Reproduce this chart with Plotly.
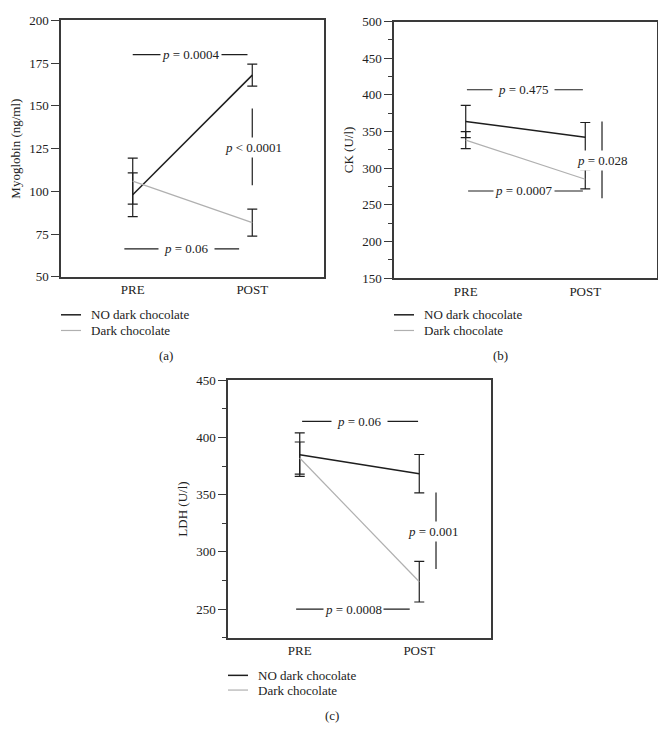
import plotly.graph_objects as go

# ---------------- data ----------------
groups = ["PRE", "POST"]
series_names = ["NO dark chocolate", "Dark chocolate"]

myo_no = [98.0, 168.0]
myo_no_err = [12.8, 6.4]
myo_dark = [106.0, 81.7]
myo_dark_err = [13.4, 7.9]

ck_no = [363.7, 342.4]
ck_no_err = [22.0, 20.0]
ck_dark = [338.4, 285.0]
ck_dark_err = [11.6, 13.0]

ldh_no = [384.9, 368.3]
ldh_no_err = [19.0, 16.8]
ldh_dark = [382.0, 274.0]
ldh_dark_err = [14.0, 17.7]

# p-values: (label, y level)
p_myo = [("= 0.0004", 180.0), ("= 0.06", 66.4), ("< 0.0001", 125.6)]
p_ck = [("= 0.475", 407.0), ("= 0.0007", 269.0), ("= 0.028", 310.0)]
p_ldh = [("= 0.06", 414.0), ("= 0.0008", 250.0), ("= 0.001", 317.7)]
# vertical bracket y-extents
v_myo = [103.6, 148.5]
v_ck = [259.0, 363.7]
v_ldh = [285.0, 352.0]

# page body has an 8px margin in the browser: compensate
OFF = 8
W, H = 666 - OFF, 749 - OFF
FONT = "Liberation Serif"
BLACK = "#1e1e1e"
GRAY = "#b0b0b0"
AX = "#3a3a3a"
TXT = "#222"


def px(x):
    return (x - OFF) / W


def py(y):
    return 1 - (y - OFF) / H


fig = go.Figure()

panels = [
    dict(ax="", vals=(myo_no, myo_no_err, myo_dark, myo_dark_err),
         xd=(61, 324), yd=(13.5, 275.3), rng=[50, 200], dtick=25, minor=False,
         title="Myoglobin (ng/ml)", p=p_myo, v=v_myo, vx=1.0, vtx=1.01,
         hx=[(0.0, 0.96, 0.49, 1), (-0.07, 0.89, 0.45, 5)], cap="(a)", capx=166,
         legx=61, legy=(314, 330), capy=356),
    dict(ax="2", vals=(ck_no, ck_no_err, ck_dark, ck_dark_err),
         xd=(394, 657), yd=(14.7, 276.7), rng=[150, 500], dtick=50, minor=True,
         title="CK (U/l)", p=p_ck, v=v_ck, vx=1.14, vtx=1.14,
         hx=[(0.01, 0.98, 0.48, 5), (0.02, 0.98, 0.49, 1)], cap="(b)", capx=500,
         legx=394, legy=(314, 330), capy=356),
    dict(ax="3", vals=(ldh_no, ldh_no_err, ldh_dark, ldh_dark_err),
         xd=(228, 491), yd=(380.7, 643.7), rng=[225, 450], dtick=50, minor=True,
         title="LDH (U/l)", p=p_ldh, v=v_ldh, vx=1.14, vtx=1.12,
         hx=[(0.02, 0.99, 0.5, 5), (-0.03, 0.92, 0.45, 1)], cap="(c)", capx=332,
         legx=228, legy=(682, 697), capy=723),
]

xs = list(range(len(groups)))
annotations = []
shapes = []

for pnl in panels:
    a = pnl["ax"]
    no, no_err, dk, dk_err = pnl["vals"]
    xa = "x" + a
    ya = "y" + a
    styles = [(BLACK, 1.5), (GRAY, 1.2)]
    for name, vals, errs, (col, lw) in [
        (series_names[0], no, no_err, styles[0]),
        (series_names[1], dk, dk_err, styles[1]),
    ]:
        fig.add_trace(go.Scatter(
            x=xs, y=vals, mode="lines", name=name, showlegend=False,
            line=dict(color=col, width=lw),
            error_y=dict(type="data", array=errs, visible=True,
                         color=BLACK, thickness=1.2, width=5),
            xaxis=xa, yaxis=ya, hoverinfo="skip",
        ))
    xkey = "xaxis" + a
    ykey = "yaxis" + a
    fig.layout[xkey] = dict(
        domain=[px(pnl["xd"][0]), px(pnl["xd"][1])],
        anchor=ya, range=[-0.6, 1.6], tickmode="array", tickvals=xs,
        ticktext=groups, ticks="", showgrid=False, zeroline=False,
        showline=True, linecolor=AX, linewidth=1.5, mirror=True,
        tickfont=dict(family=FONT, size=13, color=TXT),
    )
    ydict = dict(
        domain=[py(pnl["yd"][1]), py(pnl["yd"][0])],
        anchor=xa, range=pnl["rng"], tick0=0, dtick=pnl["dtick"],
        ticks="outside", ticklen=8, tickcolor=AX, tickwidth=1,
        showgrid=False, zeroline=False,
        showline=True, linecolor=AX, linewidth=1.5, mirror=True,
        tickfont=dict(family=FONT, size=13, color=TXT),
        title=dict(text=pnl["title"], font=dict(family=FONT, size=13, color=TXT),
                   standoff=6),
    )
    if pnl["minor"]:
        ydict["minor"] = dict(tick0=0, dtick=25, ticks="outside", ticklen=4,
                              tickcolor=AX, tickwidth=1, showgrid=False)
    fig.layout[ykey] = ydict

    # horizontal p brackets
    for (lab, yv), (x0, x1, tx, pad) in zip(pnl["p"][:2], pnl["hx"]):
        shapes.append(dict(type="line", xref=xa, yref=ya, x0=x0, x1=x1, y0=yv, y1=yv,
                           line=dict(color=BLACK, width=1.2)))
        annotations.append(dict(xref=xa, yref=ya, x=tx, y=yv, showarrow=False,
                                text="<i>p</i> " + lab, bgcolor="white", borderpad=pad,
                                font=dict(family=FONT, size=13, color=TXT)))
    # vertical p bracket
    lab, yv = pnl["p"][2]
    shapes.append(dict(type="line", xref=xa, yref=ya, x0=pnl["vx"], x1=pnl["vx"],
                       y0=pnl["v"][0], y1=pnl["v"][1], line=dict(color=BLACK, width=1.2)))
    annotations.append(dict(xref=xa, yref=ya, x=pnl["vtx"], y=yv, showarrow=False,
                            text="<i>p</i> " + lab, bgcolor="white", borderpad=2,
                            font=dict(family=FONT, size=13, color=TXT)))
    # caption
    annotations.append(dict(xref="paper", yref="paper", x=px(pnl["capx"]), y=py(pnl["capy"]),
                            showarrow=False, text=pnl["cap"], xanchor="center",
                            yanchor="middle", font=dict(family=FONT, size=13, color=TXT)))
    # legend (line swatch + label)
    for name, (col, lw), ly in zip(series_names, styles, pnl["legy"]):
        shapes.append(dict(type="line", xref="paper", yref="paper",
                           x0=px(pnl["legx"]), x1=px(pnl["legx"] + 20),
                           y0=py(ly), y1=py(ly), line=dict(color=col, width=lw)))
        annotations.append(dict(xref="paper", yref="paper", x=px(pnl["legx"] + 28),
                                y=py(ly), xanchor="left", yanchor="middle",
                                showarrow=False, text=name,
                                font=dict(family=FONT, size=13, color=TXT)))

fig.update_layout(
    width=W, height=H, margin=dict(l=0, r=0, t=0, b=0),
    paper_bgcolor="white", plot_bgcolor="white",
    showlegend=False, annotations=annotations, shapes=shapes,
)

fig.write_html("out.html")
